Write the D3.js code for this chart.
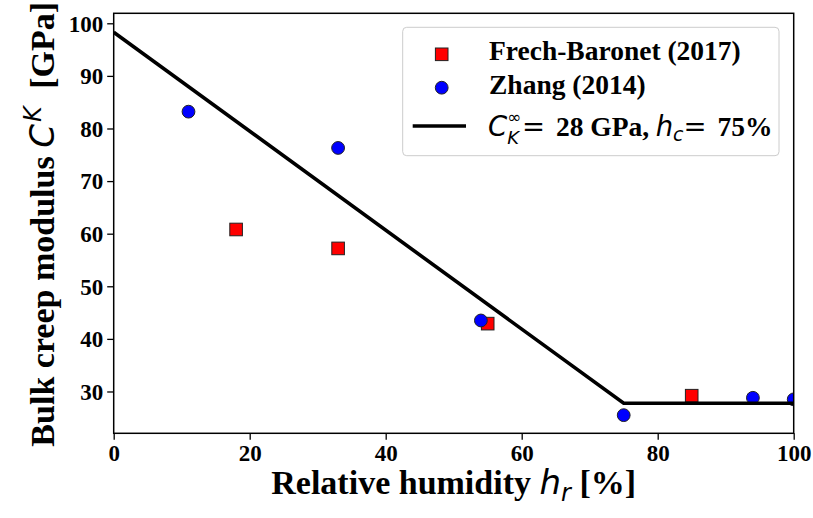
<!DOCTYPE html>
<html>
<head>
<meta charset="utf-8">
<script src="https://cdn.jsdelivr.net/npm/d3@7"></script>
<style>
  html, body { margin: 0; padding: 0; background: #fff; }
  svg { display: block; }
  .serif { font-family: "Liberation Serif", "Times New Roman", serif; font-weight: bold; }
  .math { font-family: "DejaVu Sans", sans-serif; font-style: italic; font-weight: normal; }
  .mathup { font-family: "DejaVu Sans", sans-serif; font-style: normal; font-weight: normal; }
</style>
</head>
<body>
<svg id="chart" width="813" height="518"></svg>
<script>
// ---- data ----
const frechX = [18, 33, 55, 85];
const frechY = [60.8, 57.2, 42.9, 29.2];
const zhangX = [11, 33, 54, 75, 94, 100];
const zhangY = [83.2, 76.3, 43.5, 25.5, 28.8, 28.5];
const fitX = [0, 75, 100];
const fitY = [98.3, 27.75, 27.75];
const xTicks = [0, 20, 40, 60, 80, 100];
const yTicks = [30, 40, 50, 60, 70, 80, 90, 100];
const xDomain = [0, 100];
const yDomain = [22.05, 101.9];

// ---- layout ----
const L = 113.7, R = 793.7, T = 13.3, B = 433.3;
const svg = d3.select("#chart");
const x = d3.scaleLinear().domain(xDomain).range([L, R]);
const y = d3.scaleLinear().domain(yDomain).range([B, T]);

svg.append("defs").append("clipPath").attr("id", "clip")
  .append("rect").attr("x", L).attr("y", T).attr("width", R - L).attr("height", B - T);

const plot = svg.append("g").attr("clip-path", "url(#clip)");

// markers (drawn below line)
const sq = 12.6;
plot.selectAll("rect.frech").data(frechX.map((d, i) => [d, frechY[i]])).enter()
  .append("rect").attr("class", "frech")
  .attr("x", d => x(d[0]) - sq / 2).attr("y", d => y(d[1]) - sq / 2)
  .attr("width", sq).attr("height", sq)
  .attr("fill", "#ff0000").attr("stroke", "#222").attr("stroke-width", 1);

plot.selectAll("circle.zhang").data(zhangX.map((d, i) => [d, zhangY[i]])).enter()
  .append("circle").attr("class", "zhang")
  .attr("cx", d => x(d[0])).attr("cy", d => y(d[1])).attr("r", 6.4)
  .attr("fill", "#0000ff").attr("stroke", "#222").attr("stroke-width", 1);

// fit line
const line = d3.line().x(d => x(d[0])).y(d => y(d[1]));
plot.append("path").datum(fitX.map((d, i) => [d, fitY[i]]))
  .attr("d", line).attr("fill", "none").attr("stroke", "#000").attr("stroke-width", 3.6)
  .attr("stroke-linejoin", "miter");

// axes
const xAxis = d3.axisBottom(x).tickValues(xTicks).tickSize(6.5).tickPadding(4).tickFormat(d3.format("d"));
const yAxis = d3.axisLeft(y).tickValues(yTicks).tickSize(6.5).tickPadding(4).tickFormat(d3.format("d"));
const gx = svg.append("g").attr("transform", `translate(0,${B})`).call(xAxis);
const gy = svg.append("g").attr("transform", `translate(${L},0)`).call(yAxis);
[gx, gy].forEach(g => {
  g.select(".domain").remove();
  g.selectAll(".tick line").attr("stroke", "#000").attr("stroke-width", 1.3);
  g.selectAll(".tick text").attr("class", "serif").attr("fill", "#000").style("font-size", "23px");
});
gx.selectAll(".tick text").attr("dy", "0.76em");
gy.selectAll(".tick text").attr("dy", "0.34em");

// frame
svg.append("rect").attr("x", L).attr("y", T).attr("width", R - L).attr("height", B - T)
  .attr("fill", "none").attr("stroke", "#000").attr("stroke-width", 1.5);

// x label
const xl = svg.append("text").attr("x", (L + R) / 2).attr("y", 494).attr("text-anchor", "middle")
  .attr("class", "serif").style("font-size", "34px");
xl.append("tspan").text("Relative humidity ");
xl.append("tspan").attr("class", "math").text("h");
xl.append("tspan").attr("class", "math").style("font-size", "24px").attr("dy", 7).text("r");
xl.append("tspan").attr("dy", -7).text(" [%]");

// y label
const yl = svg.append("text").attr("transform", `translate(53.5,${(T + B) / 2 + 1}) rotate(-90)`)
  .attr("text-anchor", "middle").attr("class", "serif").style("font-size", "34px");
yl.append("tspan").text("Bulk creep modulus ");
yl.append("tspan").attr("class", "math").text("C");
yl.append("tspan").attr("class", "math").style("font-size", "24px").attr("dy", -13).attr("dx", 2).text("K");
yl.append("tspan").attr("dy", 13).attr("dx", 9).text(" [GPa]");

// legend
const lg = svg.append("g");
lg.append("rect").attr("x", 402.7).attr("y", 27.3).attr("width", 376.3).attr("height", 128.4)
  .attr("rx", 4).attr("fill", "#fff").attr("fill-opacity", 0.85)
  .attr("stroke", "#cccccc").attr("stroke-width", 1);
lg.append("rect").attr("x", 441.7 - sq / 2).attr("y", 54.3 - sq / 2).attr("width", sq).attr("height", sq)
  .attr("fill", "#ff0000").attr("stroke", "#222").attr("stroke-width", 1);
lg.append("circle").attr("cx", 441.7).attr("cy", 87.7).attr("r", 6.4)
  .attr("fill", "#0000ff").attr("stroke", "#222").attr("stroke-width", 1);
lg.append("line").attr("x1", 412.7).attr("x2", 466).attr("y1", 126).attr("y2", 126)
  .attr("stroke", "#000").attr("stroke-width", 3.6);

lg.append("text").attr("x", 489).attr("y", 60).attr("class", "serif").style("font-size", "27.5px")
  .text("Frech-Baronet (2017)");
lg.append("text").attr("x", 489).attr("y", 93.5).attr("class", "serif").style("font-size", "27.5px")
  .text("Zhang (2014)");

// third legend label: C_K^inf=  28 GPa, h_c=  75%  (laid out piece by piece)
const base3 = 135.5;
let cx = 488;
function piece(cls, txt, size, dy, advance) {
  const t = lg.append("text").attr("class", cls).attr("x", cx).attr("y", base3 + dy)
    .style("font-size", size + "px").text(txt);
  const w = t.node().getComputedTextLength();
  if (advance) cx += w;
  return w;
}
piece("math", "C", 27.5, 0, true);
const w1 = piece("mathup", "\u221E", 17, -13, false);
const w2 = piece("math", "K", 18, 8, false);
cx += Math.max(w1, w2) + 0.5;
piece("mathup", "=", 27.5, 0, true);
cx += 11;
piece("serif", "28 GPa,", 27.5, 0, true);
cx += 6.5;
piece("math", "h", 27.5, 0, true);
piece("math", "c", 19, 5, true);
piece("mathup", "=", 27.5, 0, true);
cx += 11;
piece("serif", "75%", 27.5, 0, true);
</script>
</body>
</html>
